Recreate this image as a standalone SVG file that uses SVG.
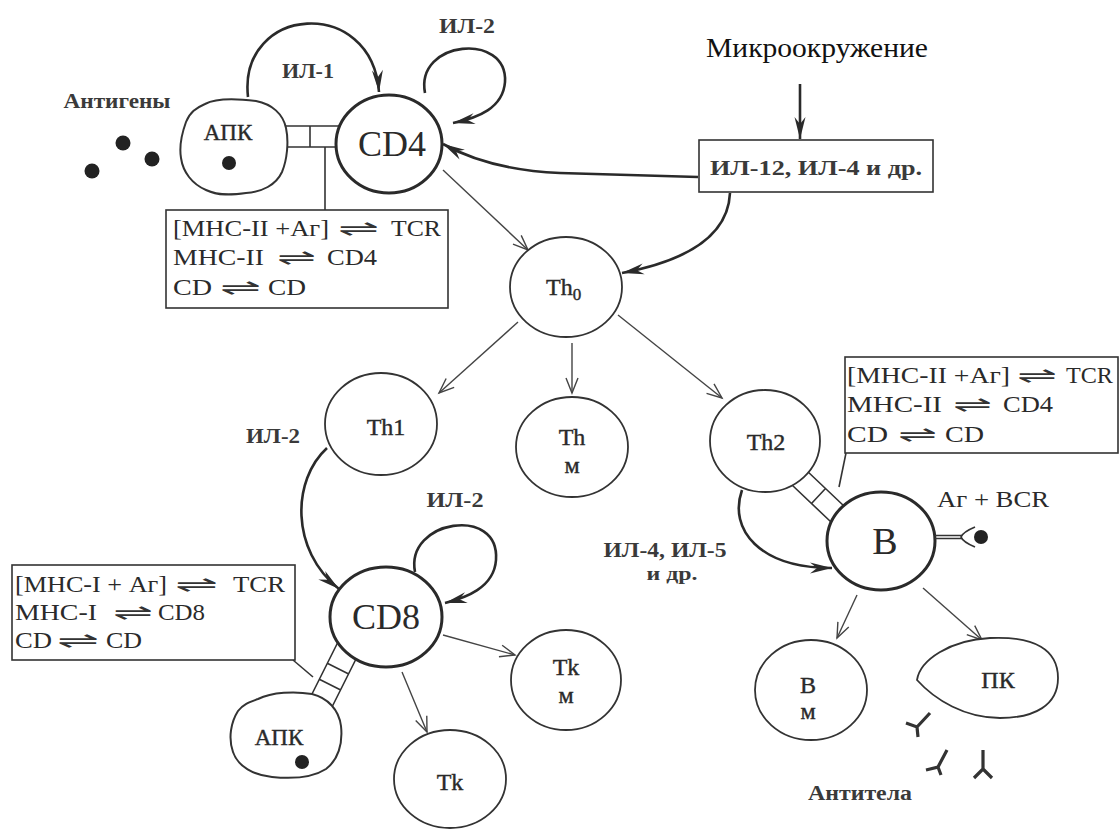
<svg xmlns="http://www.w3.org/2000/svg" width="1120" height="830" viewBox="0 0 1120 830">
<defs>
<style>
.bg{fill:#fff}
.cell{fill:#fff;stroke:#333;stroke-width:1.8}
.main{fill:#fff;stroke:#2a2a2a;stroke-width:3}
.blob{fill:#fff;stroke:#333;stroke-width:2}
.box{fill:#fff;stroke:#333;stroke-width:1.6}
.thin{fill:none;stroke:#444;stroke-width:1.4}
.thick{fill:none;stroke:#2a2a2a;stroke-width:2.6}
.lad{fill:none;stroke:#333;stroke-width:1.6}
.ab{fill:none;stroke:#333;stroke-width:3.2}
.dot{fill:#222}
text{fill:#2a2a2a;font-family:'Liberation Serif','Times New Roman',serif}
.lbl{font-size:20px;font-weight:bold;fill:#3a3a3a}
.nm{font-size:24px;text-anchor:middle;stroke:#2a2a2a;stroke-width:0.4}
.big{font-size:36px;text-anchor:middle}
.bx{font-size:24px}
.eq{font-family:'DejaVu Sans',sans-serif;font-size:22px;fill:#333}
</style>
<marker id="open" markerUnits="userSpaceOnUse" markerWidth="20" markerHeight="16" refX="0" refY="0" viewBox="-18 -8 20 16" orient="auto" overflow="visible">
<path d="M-15,-6 L0,0 L-15,6" fill="none" stroke="#444" stroke-width="1.4"/>
</marker>
<marker id="fill" markerUnits="userSpaceOnUse" markerWidth="26" markerHeight="14" refX="0" refY="0" viewBox="-24 -7 26 14" orient="auto" overflow="visible">
<path d="M0,0 L-22,-5.5 L-15,0 L-22,5.5 Z" fill="#2a2a2a"/>
</marker>
</defs>
<rect class="bg" x="0" y="0" width="1120" height="830"/>

<g id="connectors">
<path class="lad" d="M282,126 L340,126 M282,147 L340,147 M310,126 L310,147"/>
<path class="lad" d="M325,147 L325,210"/>
<path class="lad" d="M792,485 L831,522 M806,470 L845,507 M811.5,503.5 L825.5,488.5"/>
<path class="lad" d="M846,453 L839,487"/>
<path class="lad" d="M338,642 L306,706 M359,653 L327,717 M327.3,663.3 L348.7,674 M319.3,679.3 L340.7,690"/>
<path class="lad" d="M293,660 L313,677"/>
<path class="thin" d="M443,170 L528,250" marker-end="url(#open)"/>
<path class="thin" d="M518,322 L439,393" marker-end="url(#open)"/>
<path class="thin" d="M572,343 L572,393" marker-end="url(#open)"/>
<path class="thin" d="M618,315 L722,398" marker-end="url(#open)"/>
<path class="thin" d="M443,635 L515,655" marker-end="url(#open)"/>
<path class="thin" d="M402,672 L427,732" marker-end="url(#open)"/>
<path class="thin" d="M857,595 L837,638" marker-end="url(#open)"/>
<path class="thin" d="M923,588 L982,640" marker-end="url(#open)"/>
<path class="thick" d="M800,84 L800,139" marker-end="url(#fill)"/>
<path class="thick" d="M248,97 C238,5 372,-5 379,92" marker-end="url(#fill)"/>
<path class="thick" d="M425,93 C415,40 508,32 505,82 C503,108 478,118 453,123" marker-end="url(#fill)"/>
<path class="thick" d="M698,177 L560,173 Q490,170 443,144" marker-end="url(#fill)"/>
<path class="thick" d="M730,193 C728,240 680,262 622,273" marker-end="url(#fill)"/>
<path class="thick" d="M327,448 C292,480 290,550 339,589" marker-end="url(#fill)"/>
<path class="thick" d="M415,572 C405,520 500,505 496,560 C494,588 465,598 445,603" marker-end="url(#fill)"/>
<path class="thick" d="M742,490 C728,530 760,568 832,568" marker-end="url(#fill)"/>
</g>

<g id="labels">
<text x="817" y="57" style="font-size:28px;fill:#111" text-anchor="middle" textLength="222" lengthAdjust="spacingAndGlyphs">Микроокружение</text>
<text class="lbl" x="308" y="78" text-anchor="middle" textLength="52" lengthAdjust="spacingAndGlyphs">ИЛ-1</text>
<text class="lbl" x="467" y="33" text-anchor="middle" textLength="56" lengthAdjust="spacingAndGlyphs">ИЛ-2</text>
<text class="lbl" x="117" y="108" text-anchor="middle" textLength="107" lengthAdjust="spacingAndGlyphs">Антигены</text>
<text class="lbl" x="273" y="443" text-anchor="middle" textLength="54" lengthAdjust="spacingAndGlyphs">ИЛ-2</text>
<text class="lbl" x="455" y="507" text-anchor="middle" textLength="57" lengthAdjust="spacingAndGlyphs">ИЛ-2</text>
<text class="lbl" x="665" y="557" text-anchor="middle" textLength="123" lengthAdjust="spacingAndGlyphs">ИЛ-4, ИЛ-5</text>
<text class="lbl" x="672" y="580" text-anchor="middle" style="font-size:18px" textLength="51" lengthAdjust="spacingAndGlyphs">и др.</text>
<text x="993" y="507" text-anchor="middle" style="font-size:24px" textLength="112" lengthAdjust="spacingAndGlyphs">Аг + BCR</text>
<text class="lbl" x="860" y="800" text-anchor="middle" textLength="104" lengthAdjust="spacingAndGlyphs">Антитела</text>
</g>

<g id="antigens">
<circle class="dot" cx="123" cy="143" r="7.5"/>
<circle class="dot" cx="152" cy="159" r="7.5"/>
<circle class="dot" cx="92" cy="171" r="7.5"/>
</g>

<g id="apc1">
<path class="blob" d="M205,104 C218,97 240,99 256,101 C272,104 283,114 286,128 C289,142 287,160 282,172 C276,185 262,192 246,193 C232,195 218,196 206,190 C192,184 183,172 181,158 C179,146 182,133 186,122 C190,112 196,108 205,104 Z"/>
<text class="nm" x="228" y="140" style="font-size:23px">АПК</text>
<circle class="dot" cx="229" cy="163" r="7"/>
</g>

<g id="cd4">
<ellipse class="main" cx="389" cy="144" rx="53" ry="49"/>
<text class="big" x="392" y="156">CD4</text>
</g>

<g id="box-mhc2-cd4">
<rect class="box" x="166" y="210" width="282" height="98"/>
<text class="bx" y="236"><tspan x="173" textLength="156" lengthAdjust="spacingAndGlyphs">[MHC-II +Аг]</tspan> <tspan class="eq" x="338" textLength="41" lengthAdjust="spacingAndGlyphs">⇌</tspan> <tspan x="391" textLength="50" lengthAdjust="spacingAndGlyphs">TCR</tspan></text>
<text class="bx" y="265"><tspan x="173" textLength="91" lengthAdjust="spacingAndGlyphs">MHC-II</tspan> <tspan class="eq" x="277" textLength="39" lengthAdjust="spacingAndGlyphs">⇌</tspan> <tspan x="327" textLength="50" lengthAdjust="spacingAndGlyphs">CD4</tspan></text>
<text class="bx" y="295"><tspan x="173" textLength="39" lengthAdjust="spacingAndGlyphs">CD</tspan> <tspan class="eq" x="220" textLength="41" lengthAdjust="spacingAndGlyphs">⇌</tspan> <tspan x="268" textLength="38" lengthAdjust="spacingAndGlyphs">CD</tspan></text>
</g>

<g id="il12-box">
<rect class="box" x="699" y="140" width="234" height="52"/>
<text class="lbl" x="816" y="175" text-anchor="middle" style="font-size:22px" textLength="212" lengthAdjust="spacingAndGlyphs">ИЛ-12, ИЛ-4 и др.</text>
</g>

<g id="th0">
<ellipse class="cell" cx="566" cy="287" rx="56" ry="50"/>
<text x="546" y="295" style="font-size:24px;stroke:#2a2a2a;stroke-width:0.4">Th<tspan style="font-size:17px" dy="5">0</tspan></text>
</g>

<g id="th1">
<ellipse class="cell" cx="381" cy="424" rx="56" ry="51"/>
<text class="nm" x="386" y="435">Th1</text>
</g>

<g id="thm">
<ellipse class="cell" cx="572" cy="447" rx="56" ry="50"/>
<text class="nm" x="572" y="445">Th</text>
<text class="nm" x="572" y="473">м</text>
</g>

<g id="th2">
<ellipse class="cell" cx="765" cy="441" rx="55" ry="51"/>
<text class="nm" x="766" y="450">Th2</text>
</g>

<g id="box-mhc2-b">
<rect class="box" x="845" y="357" width="273" height="96"/>
<text class="bx" y="383"><tspan x="847" textLength="163" lengthAdjust="spacingAndGlyphs">[MHC-II +Аг]</tspan> <tspan class="eq" x="1017" textLength="40" lengthAdjust="spacingAndGlyphs">⇌</tspan> <tspan x="1066" textLength="47" lengthAdjust="spacingAndGlyphs">TCR</tspan></text>
<text class="bx" y="412"><tspan x="847" textLength="95" lengthAdjust="spacingAndGlyphs">MHC-II</tspan> <tspan class="eq" x="953" textLength="39" lengthAdjust="spacingAndGlyphs">⇌</tspan> <tspan x="1003" textLength="50" lengthAdjust="spacingAndGlyphs">CD4</tspan></text>
<text class="bx" y="442"><tspan x="847" textLength="41" lengthAdjust="spacingAndGlyphs">CD</tspan> <tspan class="eq" x="898" textLength="39" lengthAdjust="spacingAndGlyphs">⇌</tspan> <tspan x="945" textLength="39" lengthAdjust="spacingAndGlyphs">CD</tspan></text>
</g>

<g id="b">
<ellipse class="main" cx="881" cy="541" rx="54" ry="49"/>
<text x="885" y="554" style="font-size:38px" text-anchor="middle">B</text>
</g>

<g id="bcr">
<path class="lad" d="M935,535.5 L962,535.5 M935,538.5 L962,538.5"/>
<path d="M975,527 Q963,532 961,537 Q963,542 975,547" fill="none" stroke="#333" stroke-width="1.8"/>
<circle class="dot" cx="981" cy="537" r="7"/>
</g>

<g id="cd8">
<ellipse class="main" cx="386" cy="617" rx="56" ry="50"/>
<text class="big" x="386" y="629">CD8</text>
</g>

<g id="box-mhc1-cd8">
<rect class="box" x="12" y="565" width="283" height="95"/>
<text class="bx" y="592"><tspan x="15" textLength="152" lengthAdjust="spacingAndGlyphs">[MHC-I + Аг]</tspan> <tspan class="eq" x="175" textLength="43" lengthAdjust="spacingAndGlyphs">⇌</tspan> <tspan x="233" textLength="52" lengthAdjust="spacingAndGlyphs">TCR</tspan></text>
<text class="bx" y="620"><tspan x="15" textLength="82" lengthAdjust="spacingAndGlyphs">MHC-I</tspan> <tspan class="eq" x="113" textLength="40" lengthAdjust="spacingAndGlyphs">⇌</tspan> <tspan x="158" textLength="47" lengthAdjust="spacingAndGlyphs">CD8</tspan></text>
<text class="bx" y="648"><tspan x="15" textLength="37" lengthAdjust="spacingAndGlyphs">CD</tspan> <tspan class="eq" x="57" textLength="42" lengthAdjust="spacingAndGlyphs">⇌</tspan> <tspan x="106" textLength="36" lengthAdjust="spacingAndGlyphs">CD</tspan></text>
</g>

<g id="apc2">
<path class="blob" d="M258,699 C272,692 295,691 312,694 C328,698 339,710 341,726 C343,744 338,760 326,769 C312,778 292,779 272,777 C254,775 238,767 233,752 C228,738 231,722 238,711 C243,704 250,702 258,699 Z"/>
<text class="nm" x="279" y="745" style="font-size:23px">АПК</text>
<circle class="dot" cx="302" cy="762" r="7"/>
</g>

<g id="tkm">
<ellipse class="cell" cx="566" cy="680" rx="55" ry="50"/>
<text class="nm" x="566" y="675">Tk</text>
<text class="nm" x="566" y="703">м</text>
</g>

<g id="tk">
<ellipse class="cell" cx="450" cy="779" rx="56" ry="49"/>
<text class="nm" x="450" y="790">Tk</text>
</g>

<g id="bm">
<ellipse class="cell" cx="811" cy="690" rx="56" ry="50"/>
<text class="nm" x="808" y="693">B</text>
<text class="nm" x="808" y="719">м</text>
</g>

<g id="pk">
<path class="cell" d="M917,680 C920,660 950,640 990,638 C1035,636 1058,650 1058,678 C1058,705 1035,718 1000,718 C965,718 935,700 917,680 Z"/>
<text class="nm" x="998" y="688">ПК</text>
</g>

<g id="antibodies">
<path class="ab" d="M930,713 L917,727 L906,723 M917,727 L918,737"/>
<path class="ab" d="M947,750 L938,767 L926,770 M938,767 L941,775"/>
<path class="ab" d="M983,750 L983,769 L974,778 M983,769 L992,778"/>
</g>
</svg>
